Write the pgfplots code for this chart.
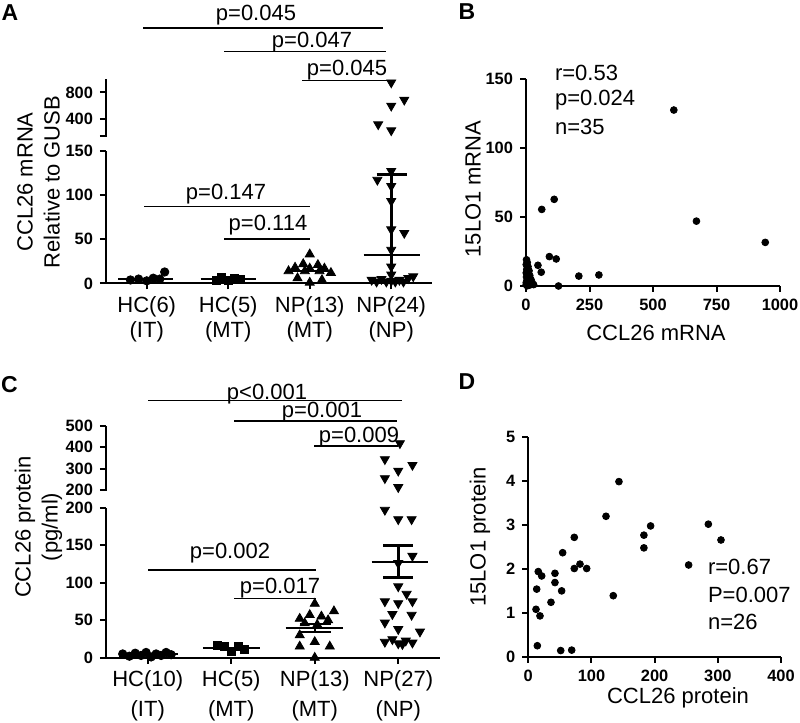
\documentclass[border=0pt]{standalone}
\usepackage{fontspec}
\setmainfont{Liberation Sans}
\newfontfamily\boldsans{Liberation Sans Bold}
\usepackage{pgfplots}
\pgfplotsset{compat=1.18}

% 1 px of the reference = 0.5pt
\newcommand{\lab}{\fontsize{11}{13.5}\selectfont}
\newcommand{\tck}{\boldsans\fontsize{8.2}{9}\selectfont}
\newcommand{\letr}{\fontsize{11.5}{13}\selectfont\bfseries}

\pgfplotsset{
  gp/.style={
    scale only axis,
    clip=false,
    axis line style={draw=none},
    xtick pos=left, ytick pos=left,
    every tick/.style={line width=1pt,black},
    tick align=outside,
    major tick length=3pt,
    tick label style={font=\tck},
    /pgf/number format/assume math mode=true,
    /pgf/number format/1000 sep={},
  },
  grp/.style={gp, xmin=-0.5, xmax=3.5, xtick={0,1,2,3},
    xticklabel style={align=center}},
  up/.style={gp, xmin=-0.5, xmax=3.5, xtick=\empty},
  pts/.style={only marks, mark options={solid,fill=black,draw=black}},
  ln/.style={no marks, line width=1pt, black},
}
% axis line and ticks as filled strips, in reference pixels
\newcommand{\vax}[3]{\fill[black] (#1-1,#2) rectangle (#1+1,#3+1);}
\newcommand{\hax}[3]{\fill[black] (#2-1,#1-1) rectangle (#3,#1+1);}
\newcommand{\ytk}[2]{\fill[black] (#1-6,#2-0.9) rectangle (#1,#2+0.9);}
\newcommand{\xtk}[2]{\fill[black] (#2-0.9,#1) rectangle (#2+0.9,#1+5.5);}

\begin{document}
\begin{tikzpicture}
\useasboundingbox (0,0) rectangle (400pt,361.5pt);

% ---------------- A (lower part) ----------------
\begin{axis}[grp, at={(53pt,219.75pt)}, width=163pt, height=66.4pt,
  ymin=0, ymax=150, ytick={0,50,100,150},
  xticklabels={{HC(6)\\(IT)},{HC(5)\\(MT)},{NP(13)\\(MT)},{NP(24)\\(NP)}},
  xticklabel style={font=\fontsize{11}{12.5}\selectfont}]
\addplot[pts, mark=*, mark size=2.1pt] coordinates {
  (-0.2,4) (-0.1,5) (0.0,3) (0.08,6) (0.16,5) (0.22,13)};
\addplot[ln] coordinates {(-0.35,5) (0.32,5)};
\addplot[pts, mark=square*, mark size=2pt] coordinates {
  (0.85,4) (0.92,7) (1.0,3) (1.07,6) (1.15,4.5)};
\addplot[ln] coordinates {(0.66,4.7) (1.34,4.7)};
\addplot[pts, mark=triangle*, mark size=2.6pt] coordinates {
  (2,33) (1.92,22) (2.1,21) (1.82,18) (2,17) (2.18,17) (1.74,14)
  (1.94,14) (2.12,14) (2.26,12) (1.85,6) (2.15,4) (2,1)};
\addplot[ln] coordinates {(1.73,14) (2.29,14)};
\addplot[ln, line width=1.6pt] coordinates {(3,3) (3,123)};
\addplot[ln, line width=1.3pt] coordinates {(2.82,123) (3.19,123)};
\addplot[ln] coordinates {(2.66,32) (3.35,32)};
\addplot[pts, mark=triangle*, mark size=2.6pt, mark options={rotate=180}] coordinates {
  (3,127) (2.83,117) (3,110) (3,93) (3,61) (3.16,57) (3,38) (3,19) (3,10)
  (2.76,4) (2.82,2) (2.88,5) (2.94,2) (3,3) (3.05,2) (3.1,4) (3.15,2) (3.21,6) (3.27,8)};
\end{axis}

% ---------------- A (upper part) ----------------
\begin{axis}[up, at={(53pt,293.65pt)}, width=163pt, height=28.25pt,
  ymin=150, ymax=1000, ytick={150,400,800}, yticklabels={,400,800}]
\addplot[pts, mark=triangle*, mark size=2.6pt, mark options={rotate=180}] coordinates {
  (3,950) (3.16,690) (3,600) (2.84,320) (3,230)};
\end{axis}

% ---------------- B ----------------
\begin{axis}[gp, at={(263pt,218.5pt)}, width=127pt, height=103.5pt,
  xmin=0, xmax=1000, ymin=0, ymax=150,
  xtick={0,250,500,750,1000}, ytick={0,50,100,150}]
\addplot[pts, mark=*, mark size=1.7pt] coordinates {
  (582,127.5) (671,47) (942,31.6) (111,62.8) (62,55.5) (92,21.3) (119,19.6)
  (47,15) (60,10) (208,7.2) (287,8) (128,0)
  (2,19) (5,17) (1,15.5) (8,14) (3,12) (12,11) (1,9.5) (6,8.5) (15,7.5) (2,6.5)
  (9,5.5) (20,4.5) (4,4) (14,3) (1,2.5) (25,2) (7,1.5) (18,1) (3,0.8) (11,0.5)
  (30,1) (5,0.2) (1,1)};
\end{axis}

% ---------------- C (lower part) ----------------
\begin{axis}[grp, at={(53pt,32.65pt)}, width=167pt, height=75pt,
  ymin=0, ymax=200, ytick={0,50,100,150,200},
  xticklabels={{HC(10)\\(IT)},{HC(5)\\(MT)},{NP(13)\\(MT)},{NP(27)\\(NP)}},
  xticklabel style={font=\fontsize{11}{15}\selectfont}]
\addplot[pts, mark=*, mark size=2.1pt] coordinates {
  (-0.3,5) (-0.22,2) (-0.15,6) (-0.08,3) (-0.02,7) (0.04,1) (0.1,5) (0.16,3) (0.22,7) (0.28,4)};
\addplot[ln] coordinates {(-0.32,4.3) (0.36,4.3)};
\addplot[pts, mark=square*, mark size=2pt] coordinates {
  (0.84,17) (0.92,15) (1,9) (1.08,15) (1.16,11)};
\addplot[ln] coordinates {(0.66,13.4) (1.34,13.4)};
\addplot[pts, mark=triangle*, mark size=2.6pt] coordinates {
  (2,72) (2.23,62) (1.94,57) (2.08,55) (1.82,52) (2.16,50) (1.88,46) (2.03,44)
  (1.82,30) (2,21) (1.82,15) (2.18,15) (2,0)};
\addplot[ln] coordinates {(1.65,40) (2.34,40)};
\addplot[ln] coordinates {(1.82,45) (2.2,45)};
\addplot[ln] coordinates {(1.82,34) (2.2,34)};
\addplot[ln] coordinates {(2,34) (2,45)};
\addplot[pts, mark=triangle*, mark size=2.6pt, mark options={rotate=180}] coordinates {
  (2.84,197) (3,184.5) (3.16,184.5) (3.17,135.6) (3,126) (3,95) (3.1,85) (2.84,75)
  (3,72.5) (3.17,75) (2.93,58) (3.16,57) (2.84,46.7) (3,38) (3.26,34.7) (2.84,21)
  (2.93,24.5) (3,19) (3.09,22.7) (3.17,20) (3.05,18)};
\addplot[ln, line width=1.6pt] coordinates {(3,107) (3,150)};
\addplot[ln, line width=1.6pt] coordinates {(2.82,150) (3.18,150)};
\addplot[ln, line width=1.6pt] coordinates {(2.82,107) (3.18,107)};
\addplot[ln] coordinates {(2.68,128) (3.36,128)};
\end{axis}

% ---------------- C (upper part) ----------------
\begin{axis}[up, at={(53pt,116.5pt)}, width=167pt, height=32pt,
  ymin=200, ymax=500, ytick={200,300,400,500}]
\addplot[pts, mark=triangle*, mark size=2.6pt, mark options={rotate=180}] coordinates {
  (3.02,419) (2.84,344) (3.17,317) (3,290) (2.84,255) (3,213)};
\end{axis}

% ---------------- D ----------------
\begin{axis}[gp, at={(264.15pt,33.15pt)}, width=126.35pt, height=109.7pt,
  xmin=0, xmax=400, ymin=0, ymax=5,
  xtick={0,100,200,300,400}, ytick={0,1,2,3,4,5}]
\addplot[pts, mark=*, mark size=1.7pt] coordinates {
  (143.5,3.99) (123,3.2) (285,3.02) (305,2.66) (193.6,2.98) (183,2.77) (183,2.48)
  (253.8,2.09) (72.8,2.72) (54.4,2.37) (72.8,2.01) (81.8,2.11) (92.4,2.01)
  (134.5,1.39) (42.2,1.9) (42.2,1.69) (52.8,1.5) (35.9,1.24) (15.8,1.94)
  (21.2,1.84) (13.3,1.54) (12.2,1.08) (18.5,0.93) (14.3,0.25) (51.3,0.14) (68.7,0.15)};
\end{axis}

% ---------------- axis lines, texts and bars, in reference pixels ----------------
\begin{scope}[shift={(0,361.5pt)}, x=0.5pt, y=-0.5pt]
% A
\vax{106}{150.7}{283.5} \hax{283.5}{106}{432}
\ytk{106}{283.5} \ytk{106}{239.2} \ytk{106}{195.0} \ytk{106}{150.7}
\xtk{283.5}{146.75} \xtk{283.5}{228.25} \xtk{283.5}{309.75} \xtk{283.5}{391.25}
\vax{106}{79.2}{135.7}
\ytk{106}{135.7} \ytk{106}{119.1} \ytk{106}{92.5}
% B
\vax{526}{79}{286} \hax{286}{526}{780}
\ytk{526}{286} \ytk{526}{217} \ytk{526}{148} \ytk{526}{79}
\xtk{286}{526} \xtk{286}{589.5} \xtk{286}{653} \xtk{286}{716.5} \xtk{286}{780}
% C
\vax{106}{507.7}{657.7} \hax{657.7}{106}{440}
\ytk{106}{657.7} \ytk{106}{620.2} \ytk{106}{582.7} \ytk{106}{545.2} \ytk{106}{507.7}
\xtk{657.7}{147.75} \xtk{657.7}{231.25} \xtk{657.7}{314.75} \xtk{657.7}{398.25}
\vax{106}{426}{490}
\ytk{106}{490} \ytk{106}{468.7} \ytk{106}{447.3} \ytk{106}{426}
% D
\vax{528.3}{437.3}{656.7} \hax{656.7}{528.3}{781}
\ytk{528.3}{656.7} \ytk{528.3}{612.8} \ytk{528.3}{568.9} \ytk{528.3}{525.1} \ytk{528.3}{481.2} \ytk{528.3}{437.3}
\xtk{656.7}{528.3} \xtk{656.7}{591.5} \xtk{656.7}{654.7} \xtk{656.7}{717.8} \xtk{656.7}{781}

\node[font=\letr] at (10,12.5) {A};
\node[font=\letr] at (467,12) {B};
\node[font=\letr] at (9.5,384.5) {C};
\node[font=\letr] at (467,382) {D};

\node[font=\lab, rotate=90, align=center] at (38.5,182) {CCL26 mRNA\\Relative to GUSB};
\node[font=\lab, rotate=90, align=center] at (38.5,527) {CCL26 protein\\(pg/ml)};
\node[font=\lab, rotate=90] at (473,189) {15LO1 mRNA};
\node[font=\lab] at (656,333) {CCL26 mRNA};
\node[font=\lab, rotate=90] at (480,537) {15LO1 protein};
\node[font=\lab] at (678,698) {CCL26 protein};

\node[font=\lab, anchor=west] at (548,72.7) {r=0.53};
\node[font=\lab, anchor=west] at (548,100) {p=0.024};
\node[font=\lab, anchor=west] at (548,127) {n=35};
\node[font=\lab, anchor=west] at (701,566.7) {r=0.67};
\node[font=\lab, anchor=west] at (701,595) {P=0.007};
\node[font=\lab, anchor=west] at (701,621.7) {n=26};

\begin{scope}[line width=0.8pt]
\draw (143,28.3) -- (383,28.3);   \node[font=\lab, anchor=base] at (256,20.7) {p=0.045};
\draw (224,51.7) -- (386,51.7);   \node[font=\lab, anchor=base] at (312,47.3) {p=0.047};
\draw (302,80.7) -- (388,80.7);   \node[font=\lab, anchor=base] at (347,76) {p=0.045};
\draw (144,206.7) -- (310,206.7); \node[font=\lab, anchor=base] at (226,199.3) {p=0.147};
\draw (224,239) -- (310,239);     \node[font=\lab, anchor=base] at (268,231) {p=0.114};

\draw (148,400.7) -- (402,400.7); \node[font=\lab, anchor=base] at (267,400) {p<0.001};
\draw (234,421) -- (397,421);     \node[font=\lab, anchor=base] at (322,418) {p=0.001};
\draw (314,446) -- (398,446);     \node[font=\lab, anchor=base] at (359,443) {p=0.009};
\draw (148,570) -- (316,570);     \node[font=\lab, anchor=base] at (230,558.3) {p=0.002};
\draw (234,598.7) -- (316,598.7); \node[font=\lab, anchor=base] at (280,593.3) {p=0.017};
\end{scope}
\end{scope}
\end{tikzpicture}
\end{document}
